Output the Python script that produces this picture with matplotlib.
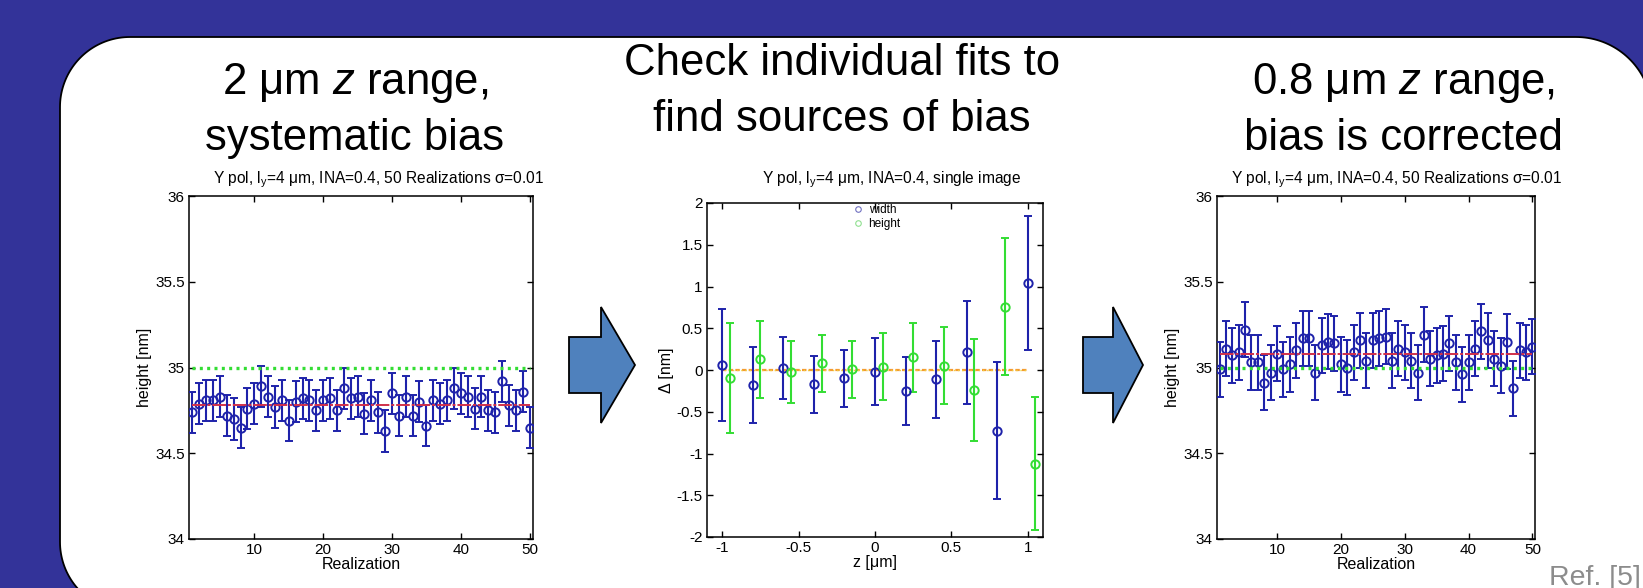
import numpy as np
import matplotlib
matplotlib.use('Agg')
import matplotlib.pyplot as plt
from matplotlib.patches import Polygon
from matplotlib.lines import Line2D
from matplotlib.ticker import FuncFormatter

plt.rcParams['font.family'] = ['Liberation Sans', 'DejaVu Sans']
plt.rcParams['mathtext.fontset'] = 'custom'
plt.rcParams['mathtext.rm'] = 'Liberation Sans'
plt.rcParams['mathtext.it'] = 'Liberation Sans:italic'
plt.rcParams['mathtext.bf'] = 'Liberation Sans:bold'

# ---------------- data ----------------
realization = list(range(1, 51))

left_height = [34.74, 34.79, 34.81, 34.81, 34.83, 34.72, 34.70, 34.65, 34.76, 34.79,
               34.89, 34.83, 34.77, 34.81, 34.69, 34.80, 34.82, 34.81, 34.75, 34.81,
               34.82, 34.75, 34.88, 34.82, 34.83, 34.73, 34.81, 34.74, 34.63, 34.85,
               34.72, 34.83, 34.72, 34.80, 34.66, 34.81, 34.79, 34.81, 34.88, 34.85,
               34.83, 34.76, 34.83, 34.75, 34.74, 34.92, 34.78, 34.75, 34.86, 34.65]
left_err = 0.12
left_mean = 34.784

right_height = [34.99, 35.11, 35.07, 35.09, 35.22, 35.03, 35.03, 34.91, 34.97, 35.08,
                34.99, 35.02, 35.10, 35.17, 35.17, 34.97, 35.13, 35.15, 35.14, 35.02,
                35.00, 35.09, 35.16, 35.04, 35.16, 35.17, 35.18, 35.04, 35.11, 35.09,
                35.04, 34.97, 35.19, 35.05, 35.07, 35.08, 35.14, 35.03, 34.96, 35.03,
                35.11, 35.21, 35.16, 35.05, 35.01, 35.15, 34.88, 35.10, 35.09, 35.12]
right_err = 0.16
right_mean = 35.076

true_height = 35.0

z_width = [-1.0, -0.8, -0.6, -0.4, -0.2, 0.0, 0.2, 0.4, 0.6, 0.8, 1.0]
width_delta = [0.06, -0.18, 0.02, -0.17, -0.10, -0.02, -0.25, -0.11, 0.21, -0.73, 1.04]
width_err = [0.67, 0.45, 0.37, 0.34, 0.34, 0.40, 0.41, 0.46, 0.62, 0.82, 0.80]

z_height = [-0.95, -0.75, -0.55, -0.35, -0.15, 0.05, 0.25, 0.45, 0.65, 0.85, 1.05]
height_delta = [-0.10, 0.13, -0.02, 0.08, 0.01, 0.04, 0.15, 0.05, -0.24, 0.76, -1.12]
height_err = [0.66, 0.46, 0.37, 0.34, 0.34, 0.40, 0.41, 0.46, 0.61, 0.82, 0.80]

z_ref = [-1.0, 1.0]
delta_ref = [0.0, 0.0]

left_xticks = [10, 20, 30, 40, 50]
height_yticks = [34, 34.5, 35, 35.5, 36]
mid_xticks = [-1, -0.5, 0, 0.5, 1]
mid_yticks = [-2, -1.5, -1, -0.5, 0, 0.5, 1, 1.5, 2]

titles_big = [("2 μm $\\mathit{z}$ range,", "systematic bias"),
              ("Check individual fits to", "find sources of bias"),
              ("0.8 μm $\\mathit{z}$ range,", "bias is corrected")]
sub_title_real = "Y pol, l$_{\\mathrm{y}}$=4 μm, INA=0.4, 50 Realizations σ=0.01"
sub_title_single = "Y pol, l$_{\\mathrm{y}}$=4 μm, INA=0.4, single image"

# ---------------- style ----------------
W, H = 1643, 588
BG = '#333399'
BLUE = '#1E22AA'
GREEN = '#33DD33'
RED = '#D0304A'
ORANGE = '#F59A30'
ARROW = '#4F81BD'

fig = plt.figure(figsize=(W / 100, H / 100), dpi=100)
fig.patch.set_facecolor(BG)

bg = fig.add_axes([0, 0, 1, 1])
bg.set_xlim(0, W)
bg.set_ylim(H, 0)
bg.axis('off')
bg.set_zorder(0)


def arc(cx, cy, r, a0, a1, n=40):
    t = np.radians(np.linspace(a0, a1, n))
    return list(zip(cx + r * np.cos(t), cy + r * np.sin(t)))


# white panel outline (y axis points down): left 60, top 37, bottom 612, right off-image
R_TL, R_TR, R_BL = 70, 76, 70
outline = []
outline += arc(60 + R_BL, 612 - R_BL, R_BL, 90, 180)          # bottom-left corner
outline += arc(60 + R_TL, 37 + R_TL, R_TL, 180, 270)          # top-left corner
outline += arc(1652 - R_TR, 37 + R_TR, R_TR, 270, 360)        # top-right corner
outline += [(1652, 640), (60 + R_BL, 640), (60 + R_BL, 612)]
bg.add_patch(Polygon(outline, closed=True, facecolor='white', edgecolor='none'))
bg.plot([p[0] for p in outline[:-2]], [p[1] for p in outline[:-2]], color='black', lw=1.3)


def block_arrow(x0, xh, xt, ys0, ys1, yh0, yh1, yc):
    pts = [(x0, ys0), (xh, ys0), (xh, yh0), (xt, yc), (xh, yh1), (xh, ys1), (x0, ys1)]
    bg.add_patch(Polygon(pts, closed=True, facecolor=ARROW, edgecolor='black', linewidth=1.3))


block_arrow(569, 601, 635, 337, 393, 307, 423, 365)
block_arrow(1083, 1113, 1143, 337, 393, 307, 423, 365)

big_pos = [(355, 94, 150), (842, 75, 131), (1403, 94, 150)]
for (l1, l2), (cx, b1, b2) in zip(titles_big, big_pos):
    bg.text(cx, b1, l1, fontsize=31.5, ha='center', va='baseline', color='black')
    bg.text(cx, b2, l2, fontsize=31.5, ha='center', va='baseline', color='black')

bg.text(1641, 585, "Ref. [5]", fontsize=20.5, ha='right', va='baseline', color='#8C8C8C')


def px_axes(x0, y0, x1, y1):
    return fig.add_axes([x0 / W, 1 - y1 / H, (x1 - x0) / W, (y1 - y0) / H])


fmt = FuncFormatter(lambda v, p: f'{v:g}')


def style(ax):
    ax.tick_params(direction='in', top=True, right=True, length=4, width=1.0,
                   labelsize=11, pad=3)
    for s in ax.spines.values():
        s.set_linewidth(1.1)
    ax.xaxis.set_major_formatter(fmt)
    ax.yaxis.set_major_formatter(fmt)
    ax.set_zorder(2)


EB = dict(fmt='o', mfc='none', ms=6, mew=1.4, elinewidth=1.5, capsize=3.2, capthick=1.4)


def height_panel(ax, vals, err, mean, xlim, title_x):
    ax.errorbar(realization, vals, yerr=err, mec=BLUE, ecolor=BLUE, zorder=3, **EB)
    ax.plot([realization[0], realization[-1]], [true_height, true_height], color=GREEN,
            lw=2.4, linestyle=(0, (0.9, 1.3)), zorder=4)
    ax.plot([realization[0], realization[-1]], [mean, mean], color=RED,
            lw=1.4, linestyle=(0, (7, 1, 1.5, 1)), zorder=4)
    ax.set_xlim(*xlim)
    ax.set_ylim(34, 36)
    ax.set_xticks(left_xticks)
    ax.set_yticks(height_yticks)
    ax.set_xlabel('Realization', fontsize=11.5, labelpad=0)
    ax.set_ylabel('height [nm]', fontsize=11.5, labelpad=2)
    t = ax.set_title(sub_title_real, fontsize=11.2, pad=9)
    t.set_x(title_x)
    style(ax)


ax1 = px_axes(189, 196, 533, 539)
height_panel(ax1, left_height, left_err, left_mean, (0.5, 50.5), 0.55)

ax3 = px_axes(1217, 196, 1535, 539)
height_panel(ax3, right_height, right_err, right_mean, (0.6, 50.4), 0.565)

ax2 = px_axes(707, 203, 1043, 537)
ax2.plot(z_ref, delta_ref, color=ORANGE, lw=1.6, linestyle=(0, (2, 1)), zorder=2)
ax2.plot(z_ref, delta_ref, color='#F0D040', lw=1.0, linestyle=(1.5, (1, 2)), zorder=2)
ax2.errorbar(z_width, width_delta, yerr=width_err, mec=BLUE, ecolor=BLUE, zorder=3, **EB)
ax2.errorbar(z_height, height_delta, yerr=height_err, mec=GREEN, ecolor=GREEN, zorder=3, **EB)
ax2.set_xlim(-1.1, 1.1)
ax2.set_ylim(-2, 2)
ax2.set_xticks(mid_xticks)
ax2.set_yticks(mid_yticks)
ax2.set_xlabel('z [μm]', fontsize=11.5, labelpad=0)
ax2.set_ylabel('Δ [nm]', fontsize=11.5, labelpad=2)
t2 = ax2.set_title(sub_title_single, fontsize=11.2, pad=14)
t2.set_x(0.55)
style(ax2)
handles = [Line2D([], [], marker='o', ls='none', mfc='none', mec='#7070C0', ms=4, mew=0.8),
           Line2D([], [], marker='o', ls='none', mfc='none', mec='#90E090', ms=4, mew=0.8)]
ax2.legend(handles, ['width', 'height'], loc='upper left', bbox_to_anchor=(852, 204),
           bbox_transform=bg.transData, frameon=False, fontsize=8.5, handlelength=1.0,
           handletextpad=0.4, labelspacing=0.15, borderpad=0, borderaxespad=0)

fig.savefig('out.png', dpi=100, facecolor=BG)
